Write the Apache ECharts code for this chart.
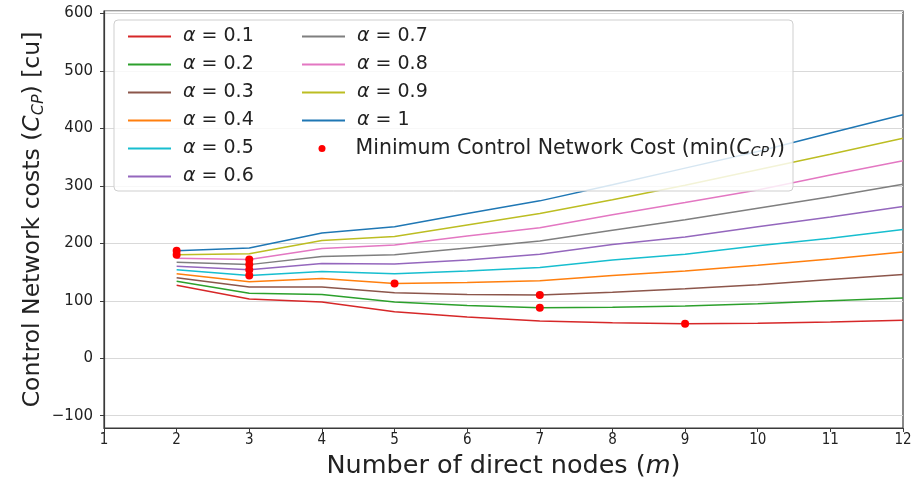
<!DOCTYPE html>
<html>
<head>
<meta charset="utf-8">
<script src="https://cdn.jsdelivr.net/npm/echarts@6/dist/echarts.min.js"></script>
<style>
html,body{margin:0;padding:0;background:#fff;}
#chart{width:912px;height:478px;}
</style>
</head>
<body>
<div id="chart"></div>
<script>
// ---- data ----
const mValues = [2, 3, 4, 5, 6, 7, 8, 9, 10, 11, 12];
const alphaLabels = ['0.1', '0.2', '0.3', '0.4', '0.5', '0.6', '0.7', '0.8', '0.9', '1'];
const cost01 = [127, 103, 98, 81, 72, 65, 62, 60, 61, 63, 66];
const cost02 = [134, 113, 111, 98, 92, 88, 89, 91, 95, 100, 105];
const cost03 = [140, 124, 124, 114, 111, 110, 115, 121, 128, 137, 146];
const cost04 = [147, 133, 139, 130, 132, 135, 144, 152, 162, 173, 185];
const cost05 = [154, 144, 151, 147, 152, 158, 171, 181, 196, 209, 224];
const cost06 = [160, 154, 165, 164, 171, 181, 198, 211, 229, 246, 264];
const cost07 = [167, 163, 177, 180, 192, 204, 223, 241, 261, 281, 303];
const cost08 = [174, 172, 191, 197, 213, 227, 250, 271, 293, 319, 344];
const cost09 = [180, 182, 205, 212, 232, 252, 276, 301, 328, 355, 383];
const cost10 = [187, 192, 218, 229, 252, 274, 302, 331, 360, 392, 424];
const xTicks = [1, 2, 3, 4, 5, 6, 7, 8, 9, 10, 11, 12];
const yTicks = [-100, 0, 100, 200, 300, 400, 500, 600];
const minLabel = 'Minimum Control Network Cost (min(C_CP))';

const costs = [cost01, cost02, cost03, cost04, cost05, cost06, cost07, cost08, cost09, cost10];
const colors = ['#d62728', '#2ca02c', '#8c564b', '#ff7f0e', '#17becf', '#9467bd', '#7f7f7f', '#e377c2', '#bcbd22', '#1f77b4'];
const names = alphaLabels.map(a => 'α = ' + a);

const lineSeries = costs.map((arr, i) => ({
  name: names[i],
  type: 'line',
  symbol: 'none',
  data: mValues.map((m, j) => [m, arr[j]]),
  lineStyle: { color: colors[i], width: 1.5 },
  itemStyle: { color: colors[i] },
  z: 2,
  silent: true,
  animation: false
}));

const minPoints = costs.map(arr => {
  let k = 0;
  arr.forEach((v, j) => { if (v < arr[k]) k = j; });
  return [mValues[k], arr[k]];
});

const FONT = 'DejaVu Sans';
const rich = {
  i: { fontFamily: FONT, fontStyle: 'italic', fontSize: 19, color: '#222', lineHeight: 22 },
  n: { fontFamily: FONT, fontSize: 19, color: '#222', lineHeight: 22 },
  m: { fontFamily: FONT, fontSize: 20.5, color: '#222', lineHeight: 22 },
  mi: { fontFamily: FONT, fontStyle: 'italic', fontSize: 20.5, color: '#222', lineHeight: 22 },
  s: { fontFamily: FONT, fontStyle: 'italic', fontSize: 14, color: '#222', lineHeight: 14, verticalAlign: 'bottom' }
};
function legendFmt(name) {
  if (name.startsWith('α')) return '{i|α}{n|' + name.slice(1) + '}';
  return '{m|Minimum Control Network Cost (min(}{mi|C}{s|CP}{m|))}';
}
const legendBase = {
  orient: 'vertical',
  itemWidth: 43,
  itemHeight: 14,
  itemGap: 9,
  formatter: legendFmt,
  textStyle: { fontFamily: FONT, fontSize: 19, color: '#222', rich: rich, padding: [0, 0, 0, 7] },
  z: 10,
  selectedMode: false
};

const chart = echarts.init(document.getElementById('chart'), null, { renderer: 'canvas' });
chart.setOption({
  backgroundColor: '#fff',
  animation: false,
  grid: { left: 104, right: 9, top: 11, bottom: 50, outerBoundsMode: 'none', containLabel: false,
    show: true, borderColor: '#3a3a3a', borderWidth: 1.2, backgroundColor: 'transparent' },
  xAxis: {
    type: 'value', min: 1, max: 12, interval: 1,
    axisLine: { show: true, onZero: false, lineStyle: { color: '#3a3a3a', width: 1.2 } },
    axisTick: { show: true, length: 4, lineStyle: { color: '#3a3a3a' } },
    splitLine: { show: false },
    axisLabel: { fontFamily: 'DejaVu Sans Condensed', fontSize: 15, color: '#222', margin: 5 },
    name: '{n|Number of direct nodes (}{i|m}{n|)}',
    nameLocation: 'middle', nameGap: 25, nameMoveOverlap: false,
    nameTextStyle: {
      rich: {
        n: { fontFamily: FONT, fontSize: 25.5, color: '#222' },
        i: { fontFamily: FONT, fontStyle: 'italic', fontSize: 25.5, color: '#222' }
      }
    }
  },
  yAxis: {
    type: 'value', min: -121.4, max: 604.5, splitNumber: 7,
    axisLine: { show: true, onZero: false, lineStyle: { color: '#3a3a3a', width: 1.2 } },
    axisTick: { show: true, length: 4, lineStyle: { color: '#3a3a3a' } },
    splitLine: { show: true, lineStyle: { color: '#d9d9d9', width: 1.2 } },
    axisLabel: {
      fontFamily: FONT, fontSize: 15, color: '#222', margin: 11,
      showMinLabel: false, showMaxLabel: false,
      formatter: v => yTicks.includes(Math.round(v)) && Math.abs(v - Math.round(v)) < 1e-6 ? (v < 0 ? '−' + Math.abs(v) : String(v)) : ''
    },
    name: '{n|Control Network costs (}{i|C}{s|CP}{n|) [cu]}',
    nameLocation: 'middle', nameGap: 57, nameRotate: 90, nameMoveOverlap: false,
    nameTextStyle: {
      rich: {
        n: { fontFamily: FONT, fontSize: 23.5, color: '#222', lineHeight: 28 },
        i: { fontFamily: FONT, fontStyle: 'italic', fontSize: 23.5, color: '#222', lineHeight: 28 },
        s: { fontFamily: FONT, fontStyle: 'italic', fontSize: 16, color: '#222', lineHeight: 18, verticalAlign: 'bottom' }
      }
    }
  },
  legend: [
    Object.assign({}, legendBase, { left: 122, top: 22, itemStyle: { opacity: 0 }, data: names.slice(0, 6) }),
    Object.assign({}, legendBase, { left: 296, top: 22, itemStyle: { opacity: 0 }, data: names.slice(6, 10) }),
    Object.assign({}, legendBase, { left: 313.5, top: 133, itemWidth: 7, itemHeight: 7,
      textStyle: Object.assign({}, legendBase.textStyle, { padding: [0, 0, 0, 25] }),
      data: [{ name: minLabel, icon: 'circle' }] })
  ],
  graphic: [{
    type: 'rect', z: 4, silent: true,
    shape: { x: 114, y: 20, width: 679, height: 171, r: 4 },
    style: { fill: 'rgba(255,255,255,0.82)', stroke: '#cfcfcf', lineWidth: 1 }
  }],
  series: lineSeries.concat([{
    name: minLabel,
    type: 'scatter',
    data: minPoints,
    symbolSize: 8,
    itemStyle: { color: '#ff0000', opacity: 1 },
    z: 3,
    silent: true
  }])
});
</script>
</body>
</html>
